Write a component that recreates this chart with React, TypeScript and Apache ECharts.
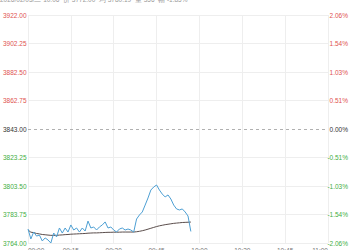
import React, { useEffect, useRef } from "react";
import * as echarts from "echarts";

const HEADER_TEXT = "2026/02/05/二 10:06  价 3772.00  均 3780.19  量 356  幅 -1.85%";
const TIME_LABELS = ["09:00", "09:15", "09:30", "09:45", "10:00", "10:30", "10:45", "11:00"];
const PREV_CLOSE = 3843.0;
const Y_MIN = 3764.0;
const Y_MAX = 3922.0;
const Y_STEP = 19.75;

const PRICE = [
  3773.7, 3766.8, 3771.6, 3768.8, 3769.5, 3765.4, 3767.5, 3766.1, 3764.0, 3770.9,
  3768.2, 3774.4, 3770.9, 3774.4, 3771.6, 3776.5, 3773.0, 3774.4, 3771.6, 3774.4,
  3772.3, 3779.2, 3774.4, 3775.1, 3773.0, 3775.1, 3776.5, 3778.6, 3774.4, 3775.1,
  3773.0, 3771.6, 3773.7, 3774.4, 3773.0, 3773.7, 3773.0, 3771.6, 3780.6, 3783.4,
  3785.5, 3790.3, 3795.2, 3800.7, 3802.8, 3804.2, 3800.7, 3797.9, 3795.9, 3797.3,
  3794.5, 3790.3, 3787.6, 3786.9, 3787.6, 3785.5, 3782.7, 3772.0,
];

const AVG = [
  3773.0, 3771.5, 3771.2, 3770.6, 3770.3, 3769.9, 3769.7, 3769.5, 3769.3, 3769.3,
  3769.3, 3769.5, 3769.6, 3769.8, 3769.9, 3770.1, 3770.2, 3770.3, 3770.4, 3770.5,
  3770.6, 3770.8, 3770.9, 3771.0, 3771.0, 3771.1, 3771.2, 3771.3, 3771.4, 3771.4,
  3771.5, 3771.5, 3771.5, 3771.6, 3771.6, 3771.6, 3771.6, 3771.6, 3771.8, 3772.1,
  3772.5, 3773.0, 3773.6, 3774.2, 3774.8, 3775.4, 3775.9, 3776.3, 3776.7, 3777.0,
  3777.3, 3777.6, 3777.8, 3778.0, 3778.2, 3778.3, 3778.4, 3778.5,
];

const MINUTES_PER_TICK = 15;
const FONT = "Liberation Sans, Arial, sans-serif";

function labelColor(v: number) {
  if (Math.abs(v - PREV_CLOSE) < 1e-6) return "#333333";
  return v > PREV_CLOSE ? "#e0524f" : "#3fae3f";
}

export default function App() {
  const ref = useRef<HTMLDivElement>(null);
  useEffect(() => {
    if (!ref.current) return;
    const chart = echarts.init(ref.current, null, { renderer: "svg" });
    const xMax = (TIME_LABELS.length - 1) * MINUTES_PER_TICK;
    const splitColors = [];
    const nLines = Math.round((Y_MAX - Y_MIN) / Y_STEP) + 1;
    for (let k = 0; k < nLines; k++) {
      splitColors.push(Math.abs(Y_MIN + k * Y_STEP - PREV_CLOSE) < 1e-6 ? "rgba(0,0,0,0)" : "#eeeeee");
    }
    chart.setOption({
      animation: false,
      backgroundColor: "#ffffff",
      textStyle: { fontFamily: FONT },
      graphic: [
        {
          type: "text",
          left: 0,
          top: -4,
          style: { text: HEADER_TEXT, fill: "#9a9a9a", fontSize: 6.5, fontFamily: FONT },
        },
      ],
      grid: {
        left: 28,
        right: 22,
        top: 15,
        bottom: 7,
        containLabel: false,
        outerBoundsMode: "none",
      },
      xAxis: {
        type: "value",
        min: 0,
        max: xMax,
        interval: MINUTES_PER_TICK,
        axisLine: { show: false },
        axisTick: { show: false },
        splitLine: { show: true, lineStyle: { color: "#eeeeee", width: 1 } },
        axisLabel: {
          fontSize: 6.5,
          color: "#777777",
          margin: 4,
          alignMinLabel: "left",
          alignMaxLabel: "right",
          formatter: (v: number) => TIME_LABELS[Math.round(v / MINUTES_PER_TICK)] ?? "",
        },
      },
      yAxis: [
        {
          type: "value",
          min: Y_MIN,
          max: Y_MAX,
          interval: Y_STEP,
          position: "left",
          axisLine: { show: false },
          axisTick: { show: false },
          splitLine: { show: true, lineStyle: { color: splitColors, width: 1 } },
          axisLabel: {
            fontSize: 6.5,
            margin: 25,
            align: "left",
            formatter: (v: number) => v.toFixed(2),
            color: (v: any) => labelColor(Number(v)),
          },
        },
        {
          type: "value",
          min: Y_MIN,
          max: Y_MAX,
          interval: Y_STEP,
          position: "right",
          axisLine: { show: false },
          axisTick: { show: false },
          splitLine: { show: false },
          axisLabel: {
            fontSize: 6.5,
            margin: 20,
            align: "right",
            formatter: (v: number) => (((v - PREV_CLOSE) / PREV_CLOSE) * 100).toFixed(2) + "%",
            color: (v: any) => labelColor(Number(v)),
          },
        },
      ],
      series: [
        {
          type: "line",
          name: "price",
          yAxisIndex: 0,
          data: PRICE.map((p, i) => [i, p]),
          showSymbol: false,
          symbol: "none",
          lineStyle: { color: "#4d9fd3", width: 1 },
          z: 3,
          markLine: {
            silent: true,
            symbol: "none",
            label: { show: false },
            lineStyle: { color: "#b0b0b0", type: [3, 3], width: 1 },
            data: [{ yAxis: PREV_CLOSE }],
          },
        },
        {
          type: "line",
          name: "avg",
          yAxisIndex: 0,
          data: AVG.map((p, i) => [i, p]),
          showSymbol: false,
          symbol: "none",
          lineStyle: { color: "#5a4d4b", width: 1 },
          z: 2,
        },
      ],
    });
    return () => chart.dispose();
  }, []);
  return (
    <div
      ref={ref}
      style={{ position: "fixed", left: 0, top: 0, width: 350, height: 250 }}
    />
  );
}
